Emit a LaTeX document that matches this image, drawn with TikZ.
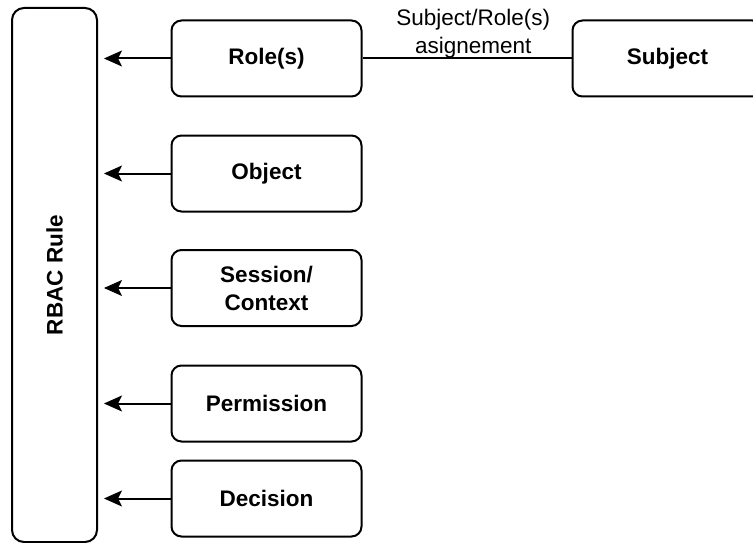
\documentclass[tikz,border=0pt]{standalone}
\usepackage{fontspec}
\setmainfont{Liberation Sans}
\usetikzlibrary{arrows.meta}
\begin{document}
\begin{tikzpicture}[x=1pt,y=-1pt,
  box/.style={draw, line width=2pt, rounded corners=10pt, minimum width=190pt, minimum height=76pt,
    font=\fontsize{22.5}{28}\selectfont\bfseries, align=center, inner sep=0pt},
  conn/.style={line width=2pt, shorten >=6pt, arrows={-Stealth[length=18pt,width=16pt,inset=4pt,line width=1pt]}},
  lbl/.style={font=\fontsize{22.5}{28}\selectfont, align=center, inner sep=0pt}]
\clip (0,0) rectangle (753,543);
\node[draw, line width=2pt, rounded corners=12pt, minimum width=85pt, minimum height=534pt, inner sep=0pt] (rbac) at (54.5,275) {};
\node[rotate=90, font=\fontsize{22.5}{28}\selectfont\bfseries, inner sep=0pt] (rbactext) at (rbac.center) {RBAC Rule};
\node[box] (role) at (266.5,58.5) {Role(s)};
\node[box] (object) at (266.5,173.5) {Object};
\node[box] (session) at (266.5,288) {Session/\\Context};
\node[box] (perm) at (266.5,403.5) {Permission};
\node[box] (dec) at (266.5,498.5) {Decision};
\node[box] (subject) at (667.5,58.5) {Subject};
\draw[conn] (role.west) -- (rbac.east |- role.west);
\draw[conn] (object.west) -- (rbac.east |- object.west);
\draw[conn] (session.west) -- (rbac.east |- session.west);
\draw[conn] (perm.west) -- (rbac.east |- perm.west);
\draw[conn] (dec.west) -- (rbac.east |- dec.west);
\draw[line width=2pt] (role.east) -- node[lbl, pos=0.53, anchor=south, yshift=-1pt] (asg) {Subject/Role(s)\\asignement} (subject.west);
\end{tikzpicture}
\end{document}
